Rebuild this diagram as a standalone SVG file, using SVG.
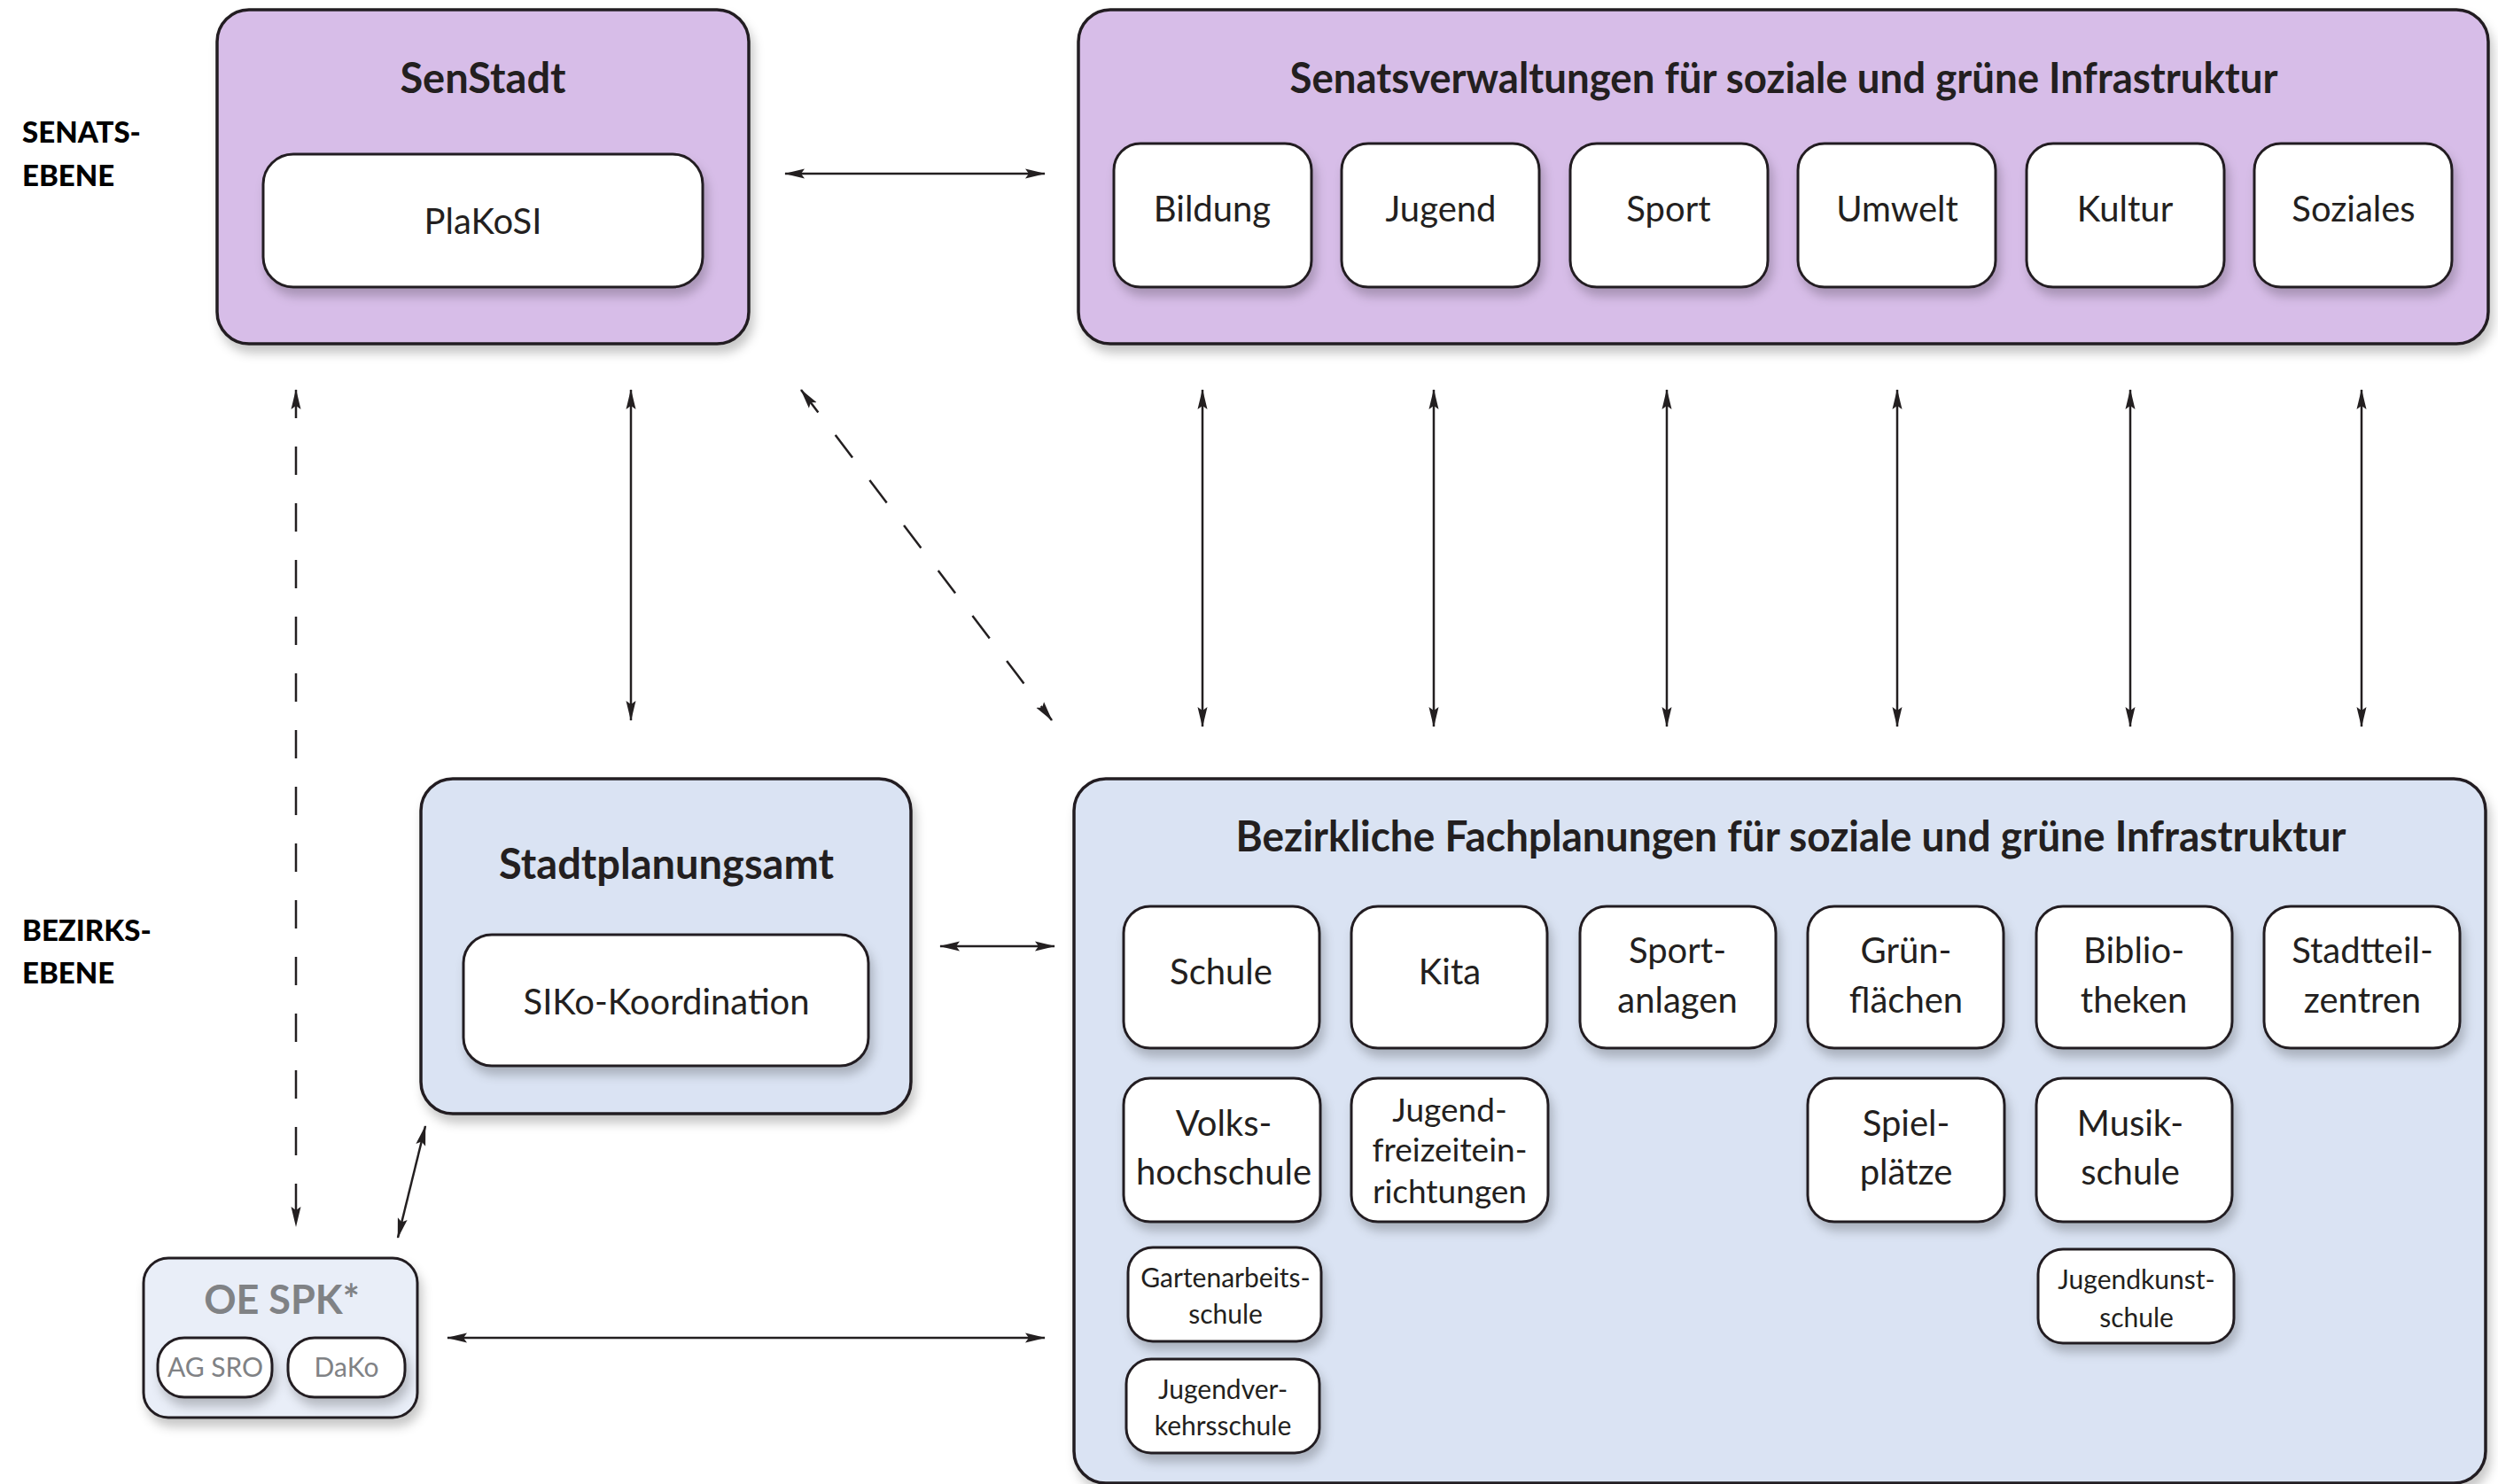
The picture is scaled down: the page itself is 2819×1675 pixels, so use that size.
<svg xmlns="http://www.w3.org/2000/svg" width="2819" height="1675" viewBox="0 0 2819 1675">
<defs>
<filter id="sh" x="-20%" y="-20%" width="140%" height="150%">
<feDropShadow dx="4" dy="9" stdDeviation="6" flood-color="#000" flood-opacity="0.22"/>
</filter>
<marker id="ah" markerUnits="userSpaceOnUse" markerWidth="24" markerHeight="12" refX="22" refY="6" orient="auto-start-reverse" viewBox="0 0 24 12">
<path d="M0,0.5 L23,6 L0,11.5 L4,6 z" fill="#231F20"/>
</marker>
<style>
.op{fill:#D7BDE8;stroke:#231F20;stroke-width:3.5;filter:url(#sh)}
.ob{fill:#DAE3F3;stroke:#231F20;stroke-width:3.5;filter:url(#sh)}
.oe{fill:#E9EEF8;stroke:#231F20;stroke-width:3;filter:url(#sh)}
.in{fill:#FFFFFF;stroke:#231F20;stroke-width:3;filter:url(#sh)}
.t{font-family:Lato,"Noto Sans",sans-serif;font-weight:700;font-size:47px;fill:#231F20;text-anchor:middle}
.l{font-family:Lato,"Noto Sans",sans-serif;font-size:40px;fill:#231F20;text-anchor:middle}
.m{font-family:Lato,"Noto Sans",sans-serif;font-size:37px;fill:#231F20;text-anchor:middle}
.s{font-family:Lato,"Noto Sans",sans-serif;font-size:30px;fill:#231F20;text-anchor:middle}
.g{font-family:Lato,"Noto Sans",sans-serif;font-size:30px;fill:#808285;text-anchor:middle}
.gt{font-family:Lato,"Noto Sans",sans-serif;font-weight:700;font-size:45px;fill:#808285;text-anchor:middle}
.side{font-family:Lato,"Noto Sans",sans-serif;font-weight:900;font-size:33px;fill:#000000}
.c{stroke:#231F20;stroke-width:2.5;fill:none;marker-start:url(#ah);marker-end:url(#ah)}
.d{stroke-dasharray:32 32}
</style>
</defs>
<rect width="2819" height="1675" fill="#FFFFFF"/>

<g id="side-labels">
<text class="side" x="25" y="161">SENATS-</text>
<text class="side" x="25" y="210">EBENE</text>
<text class="side" x="25" y="1062">BEZIRKS-</text>
<text class="side" x="25" y="1110">EBENE</text>
</g>

<g id="senstadt">
<rect class="op" x="245" y="11" width="600" height="377" rx="36"/>
<text class="t" x="545" y="105">SenStadt</text>
<g id="plakosi">
<rect class="in" x="297" y="174" width="496" height="150" rx="34"/>
<text class="l" x="545" y="264">PlaKoSI</text>
</g>
</g>

<g id="senatsverwaltungen">
<rect class="op" x="1217" y="11" width="1591" height="377" rx="36"/>
<text class="t" x="2013" y="105" textLength="1115" lengthAdjust="spacingAndGlyphs">Senatsverwaltungen für soziale und grüne Infrastruktur</text>
<g id="bildung"><rect class="in" x="1257" y="162" width="223" height="162" rx="30"/><text class="l" x="1368" y="250">Bildung</text></g>
<g id="jugend"><rect class="in" x="1514" y="162" width="223" height="162" rx="30"/><text class="l" x="1626" y="250">Jugend</text></g>
<g id="sport"><rect class="in" x="1772" y="162" width="223" height="162" rx="30"/><text class="l" x="1883" y="250">Sport</text></g>
<g id="umwelt"><rect class="in" x="2029" y="162" width="223" height="162" rx="30"/><text class="l" x="2141" y="250">Umwelt</text></g>
<g id="kultur"><rect class="in" x="2287" y="162" width="223" height="162" rx="30"/><text class="l" x="2398" y="250">Kultur</text></g>
<g id="soziales"><rect class="in" x="2544" y="162" width="223" height="162" rx="30"/><text class="l" x="2656" y="250">Soziales</text></g>
</g>

<g id="stadtplanungsamt">
<rect class="ob" x="475" y="879" width="553" height="378" rx="36"/>
<text class="t" x="752" y="992">Stadtplanungsamt</text>
<g id="siko">
<rect class="in" x="523" y="1055" width="457" height="148" rx="32"/>
<text class="l" x="752" y="1145">SIKo-Koordination</text>
</g>
</g>

<g id="bezirkliche">
<rect class="ob" x="1212" y="879" width="1593" height="795" rx="36"/>
<text class="t" x="2021" y="961" textLength="1253" lengthAdjust="spacingAndGlyphs">Bezirkliche Fachplanungen für soziale und grüne Infrastruktur</text>
<g id="schule"><rect class="in" x="1268" y="1023" width="221" height="160" rx="30"/><text class="l" x="1378" y="1111">Schule</text></g>
<g id="kita"><rect class="in" x="1525" y="1023" width="221" height="160" rx="30"/><text class="l" x="1636" y="1111">Kita</text></g>
<g id="sportanlagen"><rect class="in" x="1783" y="1023" width="221" height="160" rx="30"/><text class="l" x="1893" y="1087">Sport-</text><text class="l" x="1893" y="1143">anlagen</text></g>
<g id="gruenflaechen"><rect class="in" x="2040" y="1023" width="221" height="160" rx="30"/><text class="l" x="2151" y="1087">Grün-</text><text class="l" x="2151" y="1143">flächen</text></g>
<g id="bibliotheken"><rect class="in" x="2298" y="1023" width="221" height="160" rx="30"/><text class="l" x="2408" y="1087">Biblio-</text><text class="l" x="2408" y="1143">theken</text></g>
<g id="stadtteilzentren"><rect class="in" x="2555" y="1023" width="221" height="160" rx="30"/><text class="l" x="2666" y="1087">Stadtteil-</text><text class="l" x="2666" y="1143">zentren</text></g>
<g id="volkshochschule"><rect class="in" x="1268" y="1217" width="222" height="162" rx="30"/><text class="l" x="1381" y="1282">Volks-</text><text class="l" x="1381" y="1337">hochschule</text></g>
<g id="jugendfreizeit"><rect class="in" x="1525" y="1217" width="222" height="162" rx="30"/><text class="m" x="1636" y="1266">Jugend-</text><text class="m" x="1636" y="1311">freizeitein-</text><text class="m" x="1636" y="1358">richtungen</text></g>
<g id="spielplaetze"><rect class="in" x="2040" y="1217" width="222" height="162" rx="30"/><text class="l" x="2151" y="1282">Spiel-</text><text class="l" x="2151" y="1337">plätze</text></g>
<g id="musikschule"><rect class="in" x="2298" y="1217" width="221" height="162" rx="30"/><text class="l" x="2404" y="1282">Musik-</text><text class="l" x="2404" y="1337">schule</text></g>
<g id="gartenarbeitsschule"><rect class="in" x="1273" y="1408" width="218" height="106" rx="28"/><text class="s" x="1383" y="1453">Gartenarbeits-</text><text class="s" x="1383" y="1494">schule</text></g>
<g id="jugendkunstschule"><rect class="in" x="2300" y="1410" width="221" height="106" rx="28"/><text class="s" x="2411" y="1455">Jugendkunst-</text><text class="s" x="2411" y="1498">schule</text></g>
<g id="jugendverkehrsschule"><rect class="in" x="1271" y="1534" width="218" height="106" rx="28"/><text class="s" x="1380" y="1579">Jugendver-</text><text class="s" x="1380" y="1620">kehrsschule</text></g>
</g>

<g id="oe-spk">
<rect class="oe" x="162" y="1420" width="309" height="180" rx="28"/>
<text class="gt" x="318" y="1483">OE SPK*</text>
<g id="ag-sro"><rect class="in" x="178" y="1510" width="129" height="67" rx="30"/><text class="g" x="243" y="1554">AG SRO</text></g>
<g id="dako"><rect class="in" x="325" y="1510" width="132" height="67" rx="30"/><text class="g" x="391" y="1554">DaKo</text></g>
</g>

<g id="connectors">
<line class="c" x1="886" y1="196" x2="1179" y2="196"/>
<line class="c" x1="1357" y1="440" x2="1357" y2="820"/>
<line class="c" x1="1618" y1="440" x2="1618" y2="820"/>
<line class="c" x1="1881" y1="440" x2="1881" y2="820"/>
<line class="c" x1="2141" y1="440" x2="2141" y2="820"/>
<line class="c" x1="2404" y1="440" x2="2404" y2="820"/>
<line class="c" x1="2665" y1="440" x2="2665" y2="820"/>
<line class="c" x1="712" y1="440" x2="712" y2="813"/>
<line class="c d" x1="904" y1="440" x2="1187" y2="813"/>
<line class="c d" x1="334" y1="440" x2="334" y2="1384"/>
<line class="c" x1="449" y1="1397" x2="480" y2="1271"/>
<line class="c" x1="1061" y1="1068" x2="1190" y2="1068"/>
<line class="c" x1="505" y1="1510" x2="1179" y2="1510"/>
</g>
</svg>
